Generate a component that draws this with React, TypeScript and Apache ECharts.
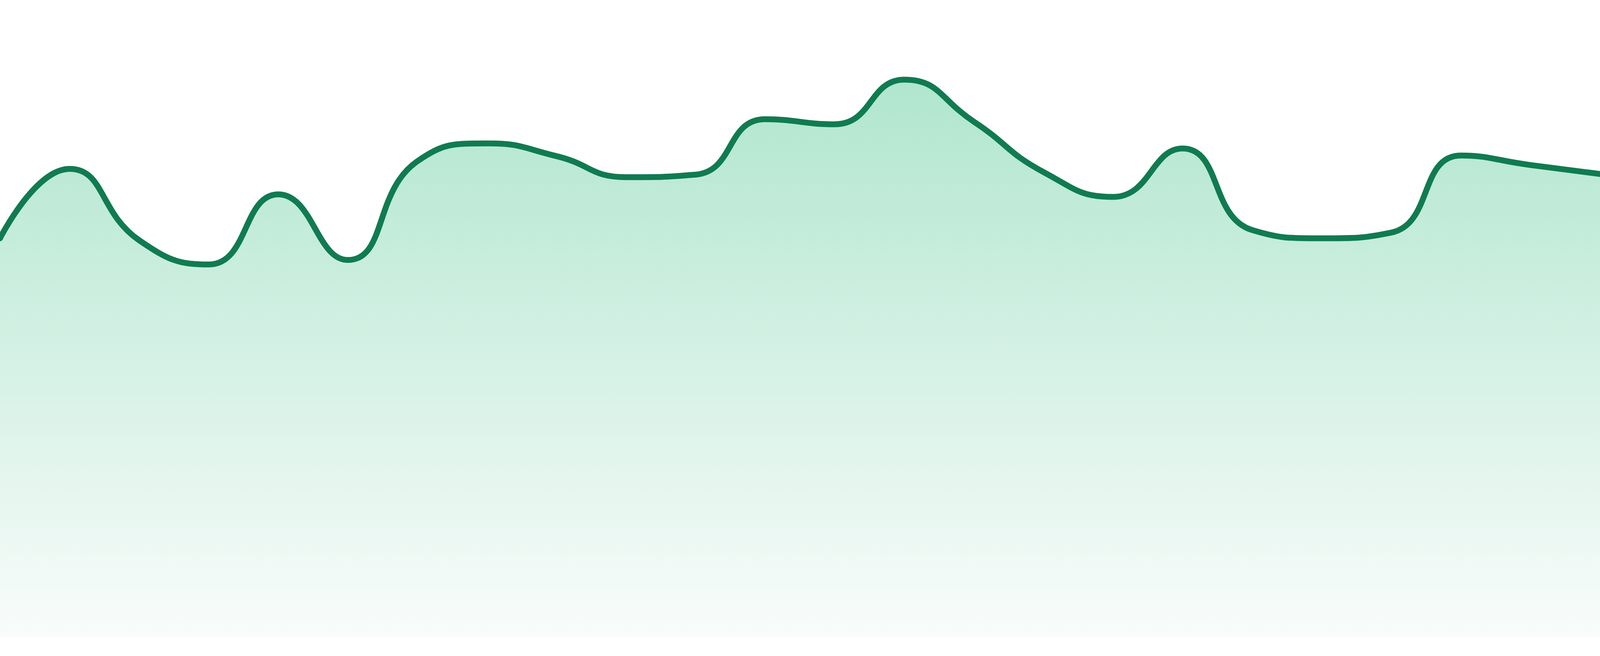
import React, { useEffect, useRef } from 'react';
import * as echarts from 'echarts';

// 24 evenly spaced samples (axis runs 0..100)
const categories = [
  'P01', 'P02', 'P03', 'P04', 'P05', 'P06', 'P07', 'P08',
  'P09', 'P10', 'P11', 'P12', 'P13', 'P14', 'P15', 'P16',
  'P17', 'P18', 'P19', 'P20', 'P21', 'P22', 'P23', 'P24',
];
const values = [
  62.6, 73.5, 62.3, 58.5, 69.5, 59.2, 74.7, 77.5,
  75.5, 72.2, 72.6, 81.3, 80.5, 87.5, 80.9, 73.0,
  69.1, 76.7, 63.9, 62.6, 63.5, 75.6, 74.1, 72.7,
];
const yMin = 0;
const yMax = 100;

const App = () => {
  const chartRef = useRef<HTMLDivElement>(null);

  useEffect(() => {
    document.body.style.margin = '0';
    if (!chartRef.current) return;
    const myChart = echarts.init(chartRef.current, undefined, { renderer: 'svg' });
    myChart.setOption({
      animation: false,
      grid: { left: 0, right: 0, top: 0, bottom: 48 },
      xAxis: {
        type: 'category',
        data: categories,
        boundaryGap: false,
        show: false,
      },
      yAxis: {
        type: 'value',
        min: yMin,
        max: yMax,
        show: false,
      },
      series: [
        {
          type: 'line',
          data: values,
          smooth: true,
          symbol: 'none',
          lineStyle: { color: '#107b51', width: 15, cap: 'round', join: 'round' },
          areaStyle: {
            opacity: 1,
            color: new echarts.graphic.LinearGradient(0, 0, 0, 1, [
              { offset: 0, color: '#b0e6ce' },
              { offset: 1, color: '#f9fcfb' },
            ]),
          },
        },
      ],
    });
    return () => {
      myChart.dispose();
    };
  }, []);

  // the page is narrower than the 4800px picture, so the chart takes the full page width
  return <div ref={chartRef} style={{ width: '100%', height: '1680px' }} />;
};

export default App;
